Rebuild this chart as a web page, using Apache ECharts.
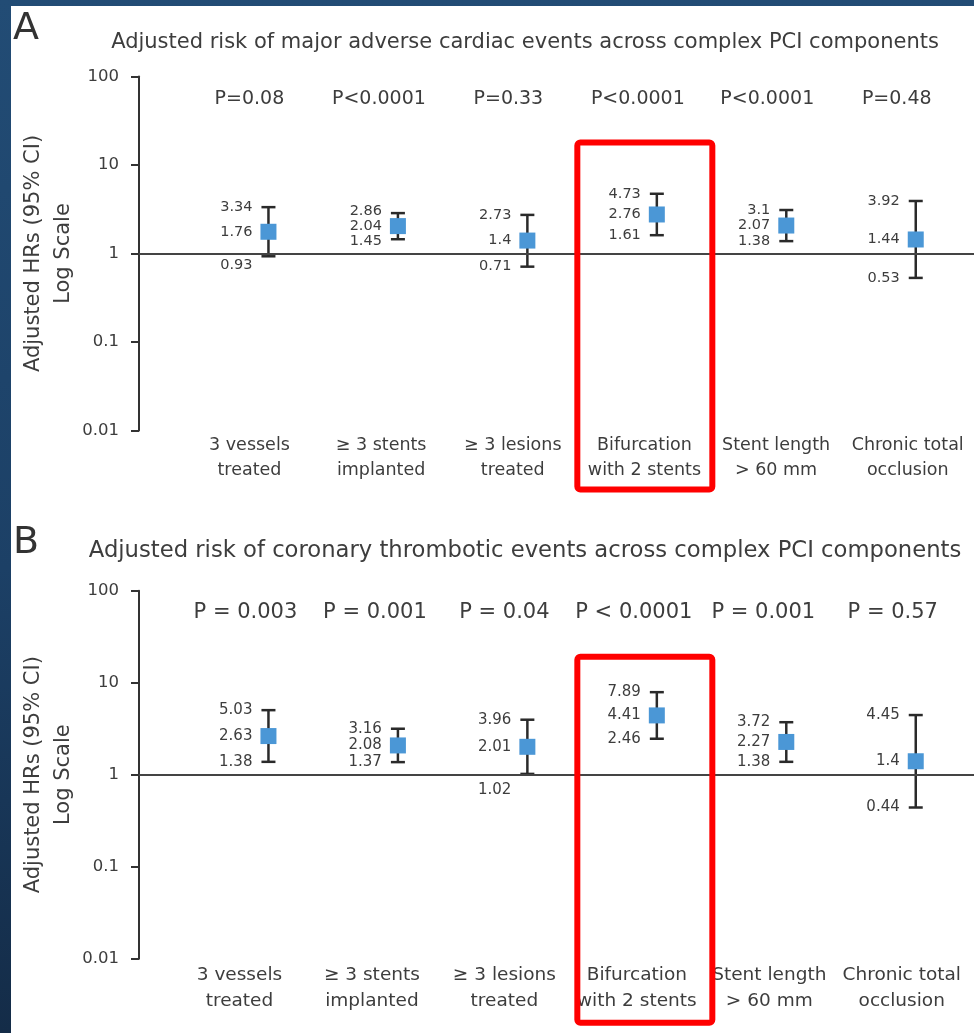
<!DOCTYPE html>
<html><head><meta charset="utf-8">
<script src="https://cdn.jsdelivr.net/npm/echarts@6/dist/echarts.min.js"></script>
<style>
html,body{margin:0;padding:0;width:974px;height:1033px;overflow:hidden;background:linear-gradient(180deg,#224c75 0%,#1c4066 55%,#142c48 100%);}
#chart{position:absolute;left:11px;top:6px;width:963px;height:1027px;background:#fff;}
</style></head><body><div id="chart"></div>
<script>
const categories = ['3 vessels\ntreated','≥ 3 stents\nimplanted','≥ 3 lesions\ntreated','Bifurcation\nwith 2 stents','Stent length\n> 60 mm','Chronic total\nocclusion'];
const tickLabels = ['0.01','0.1','1','10','100'];
const maceHR    = [1.76, 2.04, 1.4, 2.76, 2.07, 1.44];
const maceLower = [0.93, 1.45, 0.71, 1.61, 1.38, 0.53];
const maceUpper = [3.34, 2.86, 2.73, 4.73, 3.1, 3.92];
const maceP = ['P=0.08','P<0.0001','P=0.33','P<0.0001','P<0.0001','P=0.48'];
const thrHR    = [2.63, 2.08, 2.01, 4.41, 2.27, 1.4];
const thrLower = [1.38, 1.37, 1.02, 2.46, 1.38, 0.44];
const thrUpper = [5.03, 3.16, 3.96, 7.89, 3.72, 4.45];
const thrP = ['P = 0.003','P = 0.001','P = 0.04','P < 0.0001','P = 0.001','P = 0.57'];
const highlightIndex = 3;
const titleA = 'Adjusted risk of major adverse cardiac events across complex PCI components';
const titleB = 'Adjusted risk of coronary thrombotic events across complex PCI components';
const yName = 'Adjusted HRs (95% CI)\nLog Scale';

const FONT = '"DejaVu Sans", "Open Sans", sans-serif';
const TXT = '#3d3d3d';
const AX = '#333333';

function fmt(v){ return String(v); }

function makeForest(pLabels, cfg){
  return function(params, api){
    const i = api.value(0);
    const pm = api.coord([i, api.value(1)]);
    const pl = api.coord([i, api.value(2)]);
    const ph = api.coord([i, api.value(3)]);
    const yOne = api.coord([i, 1])[1];
    const yTop = api.coord([i, 100])[1];
    const yBot = api.coord([i, 0.01])[1];
    const x = pm[0];
    let yH = ph[1], yM = pm[1], yL = pl[1];
    if (Math.abs(yL - yOne) < 10) yL = yOne + cfg.belowLine;
    if (yL - yM < 15) yL = yM + 15;
    if (yM - yH < 15) yH = yM - 15;
    const cap = 7;
    const lx = x - cfg.labelGap;
    const vfont = {fontSize: cfg.valSize, fontFamily: FONT, fill: TXT};
    const idx = params.dataIndex;
    return {
      type: 'group',
      children: [
        {type:'line', shape:{x1:x,y1:ph[1],x2:x,y2:pl[1]}, style:{stroke:'#2a2a2a', lineWidth:2.5}},
        {type:'line', shape:{x1:x-cap,y1:ph[1],x2:x+cap,y2:ph[1]}, style:{stroke:'#2a2a2a', lineWidth:2.5}},
        {type:'line', shape:{x1:x-cap,y1:pl[1],x2:x+cap,y2:pl[1]}, style:{stroke:'#2a2a2a', lineWidth:2.5}},
        {type:'rect', shape:{x:x-8,y:pm[1]-8,width:16,height:16}, style:{fill:'#4b97d6'}},
        {type:'text', x:lx, y:yH, style:Object.assign({text:fmt(api.value(3)), align:'right', verticalAlign:'middle'}, vfont)},
        {type:'text', x:lx, y:yM, style:Object.assign({text:fmt(api.value(1)), align:'right', verticalAlign:'middle'}, vfont)},
        {type:'text', x:lx, y:yL, style:Object.assign({text:fmt(api.value(2)), align:'right', verticalAlign:'middle'}, vfont)},
        {type:'text', x:x + cfg.pOffset, y:yTop + cfg.pDy, style:{text:pLabels[idx], align:'center', verticalAlign:'middle', fontSize:cfg.pSize, fontFamily:FONT, fill:TXT}},
        {type:'text', x:x + cfg.catOffset + idx * cfg.catSpread, y:yBot + cfg.catDy, style:{text:categories[idx], align:'center', verticalAlign:'middle', fontSize:cfg.catSize, lineHeight:cfg.catLH, fontFamily:FONT, fill:TXT}}
      ]
    };
  };
}

function makeBox(cfg){
  return function(params, api){
    const c = api.coord([api.value(0), 1]);
    const yBot = api.coord([api.value(0), 0.01])[1];
    const cx = c[0] + cfg.boxShift;
    const top = c[1] - cfg.boxUp;
    const bottom = yBot + cfg.boxDown;
    return {type:'rect', shape:{x:cx-67.5, y:top, width:135, height:bottom-top, r:3},
      style:{fill:'none', stroke:'#ff0000', lineWidth:6}};
  };
}

function rows(hr, lo, hi){ return hr.map((v,i)=>[i, v, lo[i], hi[i]]); }

const cfgA = {belowLine:12, labelGap:16, valSize:14.5, pOffset:-19, pDy:23, pSize:19, catOffset:-19, catSpread:2.2, catDy:27, catSize:17.5, catLH:25, boxShift:-12, boxUp:111, boxDown:59};
const cfgB = {belowLine:15, labelGap:16, valSize:15, pOffset:-23, pSize:21, pDy:22, catOffset:-29, catSpread:3, catDy:29, catSize:18.5, catLH:26, boxShift:-12, boxUp:118, boxDown:64};

function yAxisFor(gi){
  return {
    type:'log', logBase:10, gridIndex:gi, min:0.01, max:100,
    axisLine:{show:true, onZero:false, lineStyle:{color:AX, width:2}},
    axisTick:{show:true, length:8, lineStyle:{color:AX, width:2}},
    axisLabel:{color:TXT, fontSize:16.5, fontFamily:FONT, margin:20,
      formatter: v => tickLabels[Math.round(Math.log10(v)) + 2]},
    splitLine:{show:false},
    name: yName, nameLocation:'middle', nameRotate:90, nameGap:60, nameMoveOverlap:false,
    nameTextStyle:{fontSize:21, color:TXT, fontFamily:FONT, lineHeight:30, align:'center'}
  };
}
function xAxisFor(gi){
  return {type:'value', gridIndex:gi, min:-1, max:5.45, show:false};
}

const markOne = {silent:true, symbol:['none','none'], label:{show:false},
  lineStyle:{color:'#444', width:2, type:'solid'}, data:[{yAxis:1}]};

const chart = echarts.init(document.getElementById('chart'), null, {renderer:'canvas'});
chart.setOption({
  animation:false,
  backgroundColor:'#ffffff',
  grid:[
    {left:128, right:0, top:70.5, height:354, containLabel:false, outerBoundsMode:'none'},
    {left:128, right:0, top:584.7, height:368, containLabel:false, outerBoundsMode:'none'}
  ],
  xAxis:[xAxisFor(0), xAxisFor(1)],
  yAxis:[yAxisFor(0), yAxisFor(1)],
  graphic:[
    {type:'text', left:2, top:4, style:{text:'A', fontSize:38, fontFamily:FONT, fill:'#333'}},
    {type:'text', left:2, top:518, style:{text:'B', fontSize:38, fontFamily:FONT, fill:'#333'}},
    {type:'text', x:514, y:37, style:{text:titleA, fontSize:21, fontFamily:FONT, fill:TXT, align:'center', verticalAlign:'middle'}},
    {type:'text', x:514, y:545, style:{text:titleB, fontSize:22.7, fontFamily:FONT, fill:TXT, align:'center', verticalAlign:'middle'}}
  ],
  series:[
    {type:'custom', name:'MACE', xAxisIndex:0, yAxisIndex:0, clip:false,
     encode:{x:0, y:[1,2,3]}, data:rows(maceHR, maceLower, maceUpper),
     renderItem: makeForest(maceP, cfgA), markLine: markOne, z:3},
    {type:'custom', name:'Thrombotic', xAxisIndex:1, yAxisIndex:1, clip:false,
     encode:{x:0, y:[1,2,3]}, data:rows(thrHR, thrLower, thrUpper),
     renderItem: makeForest(thrP, cfgB), markLine: markOne, z:3},
    {type:'custom', name:'highlightA', xAxisIndex:0, yAxisIndex:0, clip:false, silent:true,
     data:[[highlightIndex]], encode:{x:0}, renderItem: makeBox(cfgA), z:5},
    {type:'custom', name:'highlightB', xAxisIndex:1, yAxisIndex:1, clip:false, silent:true,
     data:[[highlightIndex]], encode:{x:0}, renderItem: makeBox(cfgB), z:5}
  ]
});
</script></body></html>
